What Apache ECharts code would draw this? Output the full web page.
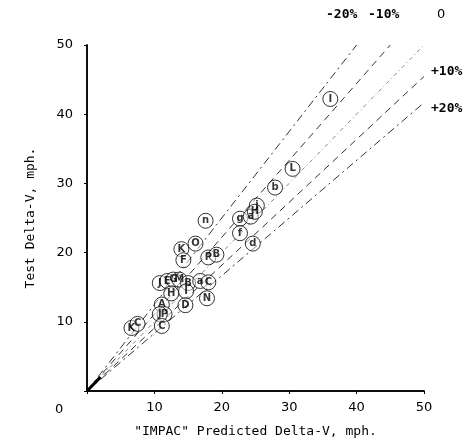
<!DOCTYPE html>
<html><head><meta charset="utf-8">
<script src="https://cdn.jsdelivr.net/npm/echarts@6/dist/echarts.min.js"></script>
<style>html,body{margin:0;padding:0;background:#fff}#c{width:474px;height:444px}</style>
</head><body><div id="c"></div>
<script>
// Predicted (x) vs Test (y) delta-V, mph, with case labels
const predicted = [36.1,30.5,27.9,25.2,22.7,24.3,24.9,22.7,24.6,17.6,16.1,14.0,14.3,18.0,19.2,10.8,11.9,12.8,13.7,15.0,16.8,18.0,12.5,14.7,17.8,14.6,11.1,11.5,10.8,11.1,6.6,7.5];
const tested    = [42.2,32.1,29.4,26.8,24.9,25.2,25.9,22.8,21.3,24.6,21.3,20.5,18.9,19.3,19.7,15.6,15.9,16.1,16.1,15.6,15.9,15.7,14.1,14.4,13.4,12.4,12.5,11.1,11.1,9.4,9.1,9.7];
const caseLabels = ['I','L','b','j','g','a','H','f','d','n','O','K','F','P','B','J','E','G','M','B','a','C','H','I','N','D','A','P','J','C','K','C'];
const ratioLines = [0.8,0.9,1.0,1.1,1.2];  // predicted = ratio * test
const ratioNames = ['-20%','-10%','0','+10%','+20%'];
const axisTicks = [0,10,20,30,40,50];

const dashes = [[8,4,2,4],[7,5],[4,3,1,3],[7,5],[8,4,2,4]];
const lineSeries = ratioLines.map((r,i)=>{
  const yEnd = Math.min(50, 50 / r);
  return {type:'line', data:[[0,0],[r*yEnd, yEnd]], symbol:'none', silent:true,
    lineStyle:{color: i===2?'#888':'#333', width:1, type:dashes[i]}, z:1};
});

const chart = echarts.init(document.getElementById('c'));
const fontNum = 'DejaVu Sans';
chart.setOption({
  animation:false,
  grid:{left:87,right:50,top:45,bottom:53},
  xAxis:[{type:'value',min:0,max:50,interval:10,
    axisLine:{lineStyle:{color:'#000',width:1.5}},
    axisTick:{show:true,length:3,lineStyle:{color:'#000'}},
    axisLabel:{color:'#000',fontFamily:fontNum,fontSize:13,margin:10,
      formatter:v=>v===0?'':String(v)},
    splitLine:{show:false},
    name:'"IMPAC" Predicted Delta-V, mph.',nameLocation:'middle',nameGap:34,
    nameTextStyle:{color:'#000',fontFamily:'DejaVu Sans Mono',fontSize:13}},
   {type:'value',position:'top',min:0,max:50,interval:10,
    axisLine:{show:true,lineStyle:{color:'#000',width:1.5}},
    axisTick:{show:true,length:3,inside:true,lineStyle:{color:'#000'}},
    axisLabel:{show:false},splitLine:{show:false}}],
  yAxis:[{type:'value',min:0,max:50,interval:10,
    axisLine:{show:true,lineStyle:{color:'#000',width:1.5}},
    axisTick:{show:true,length:3,lineStyle:{color:'#000'}},
    axisLabel:{color:'#000',fontFamily:fontNum,fontSize:13,margin:14,
      formatter:v=>v===0?'':String(v)},
    splitLine:{show:false},
    name:'Test Delta-V, mph.',nameLocation:'middle',nameGap:50,
    nameTextStyle:{color:'#000',fontFamily:'DejaVu Sans Mono',fontSize:13}},
   {type:'value',position:'right',min:0,max:50,interval:10,
    axisLine:{show:true,lineStyle:{color:'#000',width:1.5}},
    axisTick:{show:true,length:3,inside:true,lineStyle:{color:'#000'}},
    axisLabel:{show:false},splitLine:{show:false}}],
  graphic:[
    {type:'text',left:55,top:403,style:{text:String(axisTicks[0]),font:'13px DejaVu Sans',fill:'#000'}},
    {type:'text',left:326,top:8,style:{text:ratioNames[0],font:'bold 13px DejaVu Sans Mono',fill:'#000'}},
    {type:'text',left:368,top:8,style:{text:ratioNames[1],font:'bold 13px DejaVu Sans Mono',fill:'#000'}},
    {type:'text',left:437,top:8,style:{text:ratioNames[2],font:'13px DejaVu Sans',fill:'#000'}},
    {type:'text',left:431,top:65,style:{text:ratioNames[3],font:'bold 13px DejaVu Sans Mono',fill:'#000'}},
    {type:'text',left:431,top:102,style:{text:ratioNames[4],font:'bold 13px DejaVu Sans Mono',fill:'#000'}}
  ],
  series:[...lineSeries,
    {type:'line',data:[[0,0],[2,2]],symbol:'none',silent:true,lineStyle:{color:'#000',width:3},z:2},
    {type:'scatter',data:predicted.map((x,i)=>[x,tested[i],caseLabels[i]]),
     symbol:'circle',symbolSize:15,
     itemStyle:{color:'rgba(255,255,255,0.6)',borderColor:'#000',borderWidth:1},
     label:{show:true,position:'inside',formatter:p=>p.data[2],color:'#000',
       fontFamily:'DejaVu Sans',fontSize:10,fontWeight:'bold'},z:5}
  ]
});
</script></body></html>
